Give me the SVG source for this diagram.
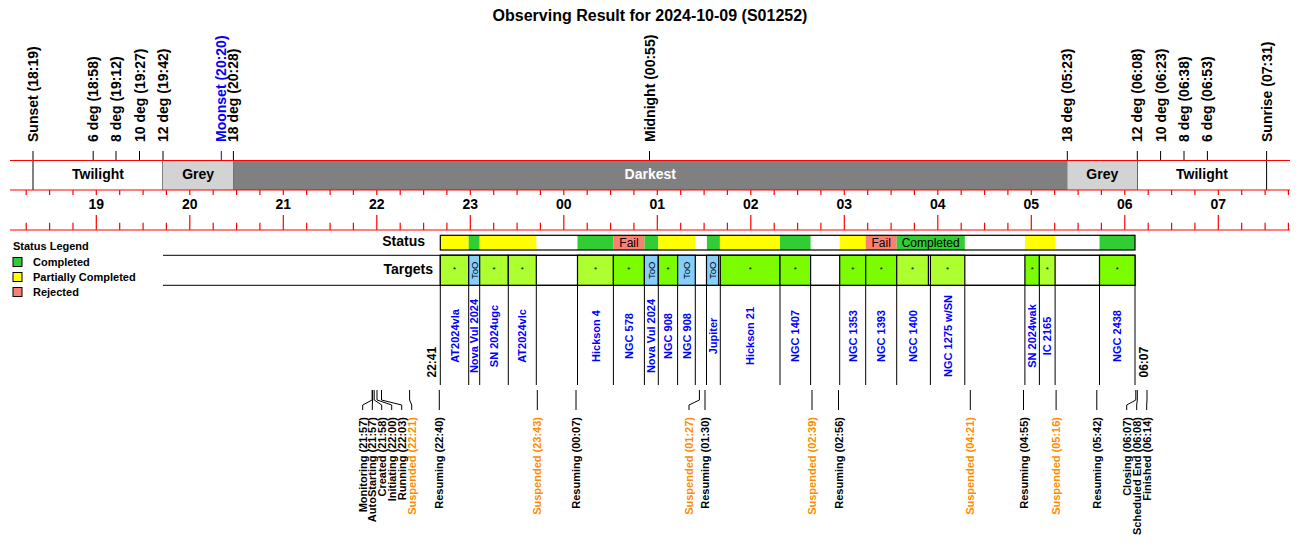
<svg xmlns="http://www.w3.org/2000/svg" width="1300" height="560" viewBox="0 0 1300 560">
<style>
text { font-family: "Liberation Sans", Arial, Helvetica, sans-serif; fill: #000; }
.title { font-size: 16px; font-weight: bold; }
.b14 { font-size: 14px; font-weight: bold; }
.b12 { font-size: 12px; font-weight: bold; }
.b11 { font-size: 11px; font-weight: bold; }
.r12 { font-size: 12px; }
.tgt { font-size: 11px; font-weight: bold; fill: #0000ff; }
.too { font-size: 9.5px; }
.star { font-size: 8px; }
.blue { fill: #0000ff; }
.orange { fill: #ff8c00; }
.white { fill: #ffffff; }
.red { stroke: #ff0000; stroke-width: 1.2; fill: none; }
.blk { stroke: #000; stroke-width: 1; fill: none; }
.tbox { stroke: #000; stroke-width: 1.2; }
.yg { fill: #adff2f; }
.lg { fill: #7cfc00; }
.sky { fill: #87cefa; }
.cG { fill: #32cd32; }
.cY { fill: #ffff00; }
.cR { fill: #fa8072; }
</style>
<rect width="1300" height="560" fill="#ffffff"/>
<text class="title" x="650" y="21" text-anchor="middle">Observing Result for 2024-10-09 (S01252)</text>

<g id="sky-events">
  <path class="blk" d="M33 151V190M93.2 151V160M116 151V160M139.5 151V160M163 151V190M233.4 151V190M649.5 151V160M1067.3 151V190M1137.3 151V190M1160.6 151V160M1184 151V160M1207.4 151V160M1266.6 151V190"/>
  <path d="M221.3 151V160" stroke="#0000ff" stroke-width="1" fill="none"/>
  <text class="b14" transform="translate(38,142) rotate(-90)">Sunset (18:19)</text>
  <text class="b14" transform="translate(98.2,142) rotate(-90)">6 deg (18:58)</text>
  <text class="b14" transform="translate(121,142) rotate(-90)">8 deg (19:12)</text>
  <text class="b14" transform="translate(144.5,142) rotate(-90)">10 deg (19:27)</text>
  <text class="b14" transform="translate(168,142) rotate(-90)">12 deg (19:42)</text>
  <text class="b14 blue" transform="translate(226.3,142) rotate(-90)">Moonset (20:20)</text>
  <text class="b14" transform="translate(238.4,142) rotate(-90)">18 deg (20:28)</text>
  <text class="b14" transform="translate(654.5,142) rotate(-90)">Midnight (00:55)</text>
  <text class="b14" transform="translate(1072.3,142) rotate(-90)">18 deg (05:23)</text>
  <text class="b14" transform="translate(1142.3,142) rotate(-90)">12 deg (06:08)</text>
  <text class="b14" transform="translate(1165.6,142) rotate(-90)">10 deg (06:23)</text>
  <text class="b14" transform="translate(1189,142) rotate(-90)">8 deg (06:38)</text>
  <text class="b14" transform="translate(1212.4,142) rotate(-90)">6 deg (06:53)</text>
  <text class="b14" transform="translate(1271.6,142) rotate(-90)">Sunrise (07:31)</text>
</g>

<g id="sky-bands">
  <rect x="163" y="160.5" width="70.4" height="29.5" fill="#d3d3d3"/>
  <rect x="233.4" y="160.5" width="833.9" height="29.5" fill="#808080"/>
  <rect x="1067.3" y="160.5" width="70" height="29.5" fill="#d3d3d3"/>
  <text class="b14" x="98" y="179" text-anchor="middle">Twilight</text>
  <text class="b14" x="198.2" y="179" text-anchor="middle">Grey</text>
  <text class="b14 white" x="650.3" y="179" text-anchor="middle">Darkest</text>
  <text class="b14" x="1102.3" y="179" text-anchor="middle">Grey</text>
  <text class="b14" x="1202" y="179" text-anchor="middle">Twilight</text>
  <path class="red" d="M10 160.5H1290M10 190H1290M10 230H1290"/>
</g>

<g id="time-axis">
  <path class="red" d="M26.2 190v5M49.6 190v5M73 190v5M96.3 190v5M119.7 190v5M143.1 190v5M166.4 190v5M189.8 190v5M213.2 190v5M236.6 190v5M259.9 190v5M283.3 190v5M306.7 190v5M330.1 190v5M353.4 190v5M376.8 190v5M400.2 190v5M423.6 190v5M446.9 190v5M470.3 190v5M493.7 190v5M517.1 190v5M540.4 190v5M563.8 190v5M587.2 190v5M610.6 190v5M633.9 190v5M657.3 190v5M680.7 190v5M704.1 190v5M727.4 190v5M750.8 190v5M774.2 190v5M797.6 190v5M820.9 190v5M844.3 190v5M867.7 190v5M891.1 190v5M914.4 190v5M937.8 190v5M961.2 190v5M984.6 190v5M1007.9 190v5M1031.3 190v5M1054.7 190v5M1078.1 190v5M1101.4 190v5M1124.8 190v5M1148.2 190v5M1171.6 190v5M1194.9 190v5M1218.3 190v5M1241.7 190v5M1265.1 190v5M1288.4 190v5"/>
  <path class="red" d="M26.2 222.7V230M49.6 222.7V230M73 222.7V230M119.7 222.7V230M143.1 222.7V230M166.4 222.7V230M213.2 222.7V230M236.6 222.7V230M259.9 222.7V230M306.7 222.7V230M330.1 222.7V230M353.4 222.7V230M400.2 222.7V230M423.6 222.7V230M446.9 222.7V230M493.7 222.7V230M517.1 222.7V230M540.4 222.7V230M587.2 222.7V230M610.6 222.7V230M633.9 222.7V230M680.7 222.7V230M704.1 222.7V230M727.4 222.7V230M774.2 222.7V230M797.6 222.7V230M820.9 222.7V230M867.7 222.7V230M891.1 222.7V230M914.4 222.7V230M961.2 222.7V230M984.6 222.7V230M1007.9 222.7V230M1054.7 222.7V230M1078.1 222.7V230M1101.4 222.7V230M1148.2 222.7V230M1171.6 222.7V230M1194.9 222.7V230M1241.7 222.7V230M1265.1 222.7V230M1288.4 222.7V230"/>
  <path class="red" d="M96.3 215V230M189.8 215V230M283.3 215V230M376.8 215V230M470.3 215V230M563.8 215V230M657.3 215V230M750.8 215V230M844.3 215V230M937.8 215V230M1031.3 215V230M1124.8 215V230M1218.3 215V230"/>
  <text class="b14" x="96.3" y="209.3" text-anchor="middle">19</text>
  <text class="b14" x="189.8" y="209.3" text-anchor="middle">20</text>
  <text class="b14" x="283.3" y="209.3" text-anchor="middle">21</text>
  <text class="b14" x="376.8" y="209.3" text-anchor="middle">22</text>
  <text class="b14" x="470.3" y="209.3" text-anchor="middle">23</text>
  <text class="b14" x="563.8" y="209.3" text-anchor="middle">00</text>
  <text class="b14" x="657.3" y="209.3" text-anchor="middle">01</text>
  <text class="b14" x="750.8" y="209.3" text-anchor="middle">02</text>
  <text class="b14" x="844.3" y="209.3" text-anchor="middle">03</text>
  <text class="b14" x="937.8" y="209.3" text-anchor="middle">04</text>
  <text class="b14" x="1031.3" y="209.3" text-anchor="middle">05</text>
  <text class="b14" x="1124.8" y="209.3" text-anchor="middle">06</text>
  <text class="b14" x="1218.3" y="209.3" text-anchor="middle">07</text>
</g>

<g id="legend">
  <text class="b11" x="13" y="250">Status Legend</text>
  <rect class="cG" x="13" y="257.5" width="9" height="9" stroke="#000" stroke-width="1"/>
  <text class="b11" x="33" y="266">Completed</text>
  <rect class="cY" x="13" y="272.5" width="9" height="9" stroke="#000" stroke-width="1"/>
  <text class="b11" x="33" y="281">Partially Completed</text>
  <rect class="cR" x="13" y="287.5" width="9" height="9" stroke="#000" stroke-width="1"/>
  <text class="b11" x="33" y="296">Rejected</text>
</g>

<g id="status-row">
  <text class="b14" x="425" y="246" text-anchor="end">Status</text>
  <rect class="cY" x="440.3" y="235.3" width="28.4" height="14.7"/>
  <rect class="cG" x="468.7" y="235.3" width="11" height="14.7"/>
  <rect class="cY" x="479.7" y="235.3" width="56.6" height="14.7"/>
  <rect class="cG" x="577.5" y="235.3" width="36" height="14.7"/>
  <rect class="cR" x="613.5" y="235.3" width="31" height="14.7"/>
  <rect class="cG" x="644.5" y="235.3" width="13.8" height="14.7"/>
  <rect class="cY" x="658.3" y="235.3" width="37.1" height="14.7"/>
  <rect class="cG" x="706.9" y="235.3" width="13" height="14.7"/>
  <rect class="cY" x="719.9" y="235.3" width="60.1" height="14.7"/>
  <rect class="cG" x="780" y="235.3" width="30.6" height="14.7"/>
  <rect class="cY" x="839.7" y="235.3" width="26" height="14.7"/>
  <rect class="cR" x="865.7" y="235.3" width="31" height="14.7"/>
  <rect class="cG" x="896.7" y="235.3" width="68.1" height="14.7"/>
  <rect class="cY" x="1024.9" y="235.3" width="30.2" height="14.7"/>
  <rect class="cG" x="1099.5" y="235.3" width="35.5" height="14.7"/>
  <rect x="440.3" y="235.3" width="694.7" height="14.7" fill="none" stroke="#000" stroke-width="1.2"/>
  <text class="r12" x="629" y="247" text-anchor="middle">Fail</text>
  <text class="r12" x="881.2" y="247" text-anchor="middle">Fail</text>
  <text class="r12" x="930.7" y="247" text-anchor="middle">Completed</text>
</g>

<g id="targets-row">
  <text class="b14" x="433" y="274" text-anchor="end">Targets</text>
  <path class="blk" d="M163 255.3H1135M163 285.3H1135" stroke-width="1.2"/>
  <rect x="440.3" y="255.3" width="694.7" height="30" fill="none" stroke="#000" stroke-width="1.2"/>
</g>

<g id="t01"><rect class="tbox yg" x="440.3" y="255.3" width="28.4" height="30"/><text class="star" x="454.5" y="272" text-anchor="middle">*</text><text class="tgt" transform="translate(458.5,336) rotate(-90)" text-anchor="middle">AT2024vla</text></g>
<g id="t02"><rect class="tbox sky" x="468.7" y="255.3" width="11" height="30"/><text class="too" transform="translate(477.6,270.3) rotate(-90)" text-anchor="middle">ToO</text><text class="tgt" transform="translate(478.2,336) rotate(-90)" text-anchor="middle">Nova Vul 2024</text></g>
<g id="t03"><rect class="tbox yg" x="479.7" y="255.3" width="28.6" height="30"/><text class="star" x="494" y="272" text-anchor="middle">*</text><text class="tgt" transform="translate(498,336) rotate(-90)" text-anchor="middle">SN 2024ugc</text></g>
<g id="t04"><rect class="tbox yg" x="508.3" y="255.3" width="28" height="30"/><text class="star" x="522.3" y="272" text-anchor="middle">*</text><text class="tgt" transform="translate(526.3,336) rotate(-90)" text-anchor="middle">AT2024vlc</text></g>
<g id="t05"><rect class="tbox yg" x="577.5" y="255.3" width="35.9" height="30"/><text class="star" x="595.5" y="272" text-anchor="middle">*</text><text class="tgt" transform="translate(599.5,336) rotate(-90)" text-anchor="middle">Hickson 4</text></g>
<g id="t06"><rect class="tbox lg" x="613.4" y="255.3" width="31" height="30"/><text class="star" x="628.9" y="272" text-anchor="middle">*</text><text class="tgt" transform="translate(632.9,336) rotate(-90)" text-anchor="middle">NGC 578</text></g>
<g id="t07"><rect class="tbox sky" x="644.4" y="255.3" width="13.9" height="30"/><text class="too" transform="translate(654.8,270.3) rotate(-90)" text-anchor="middle">ToO</text><text class="tgt" transform="translate(655.4,336) rotate(-90)" text-anchor="middle">Nova Vul 2024</text></g>
<g id="t08"><rect class="tbox lg" x="658.3" y="255.3" width="19.3" height="30"/><text class="star" x="668" y="272" text-anchor="middle">*</text><text class="tgt" transform="translate(672,336) rotate(-90)" text-anchor="middle">NGC 908</text></g>
<g id="t09"><rect class="tbox sky" x="677.6" y="255.3" width="17.7" height="30"/><text class="too" transform="translate(689.9,270.3) rotate(-90)" text-anchor="middle">ToO</text><text class="tgt" transform="translate(690.5,336) rotate(-90)" text-anchor="middle">NGC 908</text></g>
<g id="t10"><rect class="tbox sky" x="706.5" y="255.3" width="12.2" height="30"/><text class="too" transform="translate(716,270.3) rotate(-90)" text-anchor="middle">ToO</text><text class="tgt" transform="translate(716.6,336) rotate(-90)" text-anchor="middle">Jupiter</text></g>
<g id="t11"><rect class="tbox lg" x="720.3" y="255.3" width="59.7" height="30"/><text class="star" x="750.2" y="272" text-anchor="middle">*</text><text class="tgt" transform="translate(754.2,336) rotate(-90)" text-anchor="middle">Hickson 21</text></g>
<g id="t12"><rect class="tbox lg" x="780" y="255.3" width="30.6" height="30"/><text class="star" x="795.3" y="272" text-anchor="middle">*</text><text class="tgt" transform="translate(799.3,336) rotate(-90)" text-anchor="middle">NGC 1407</text></g>
<g id="t13"><rect class="tbox lg" x="839.7" y="255.3" width="26" height="30"/><text class="star" x="852.7" y="272" text-anchor="middle">*</text><text class="tgt" transform="translate(856.7,336) rotate(-90)" text-anchor="middle">NGC 1353</text></g>
<g id="t14"><rect class="tbox lg" x="865.7" y="255.3" width="31" height="30"/><text class="star" x="881.2" y="272" text-anchor="middle">*</text><text class="tgt" transform="translate(885.2,336) rotate(-90)" text-anchor="middle">NGC 1393</text></g>
<g id="t15"><rect class="tbox yg" x="896.7" y="255.3" width="31.7" height="30"/><text class="star" x="912.6" y="272" text-anchor="middle">*</text><text class="tgt" transform="translate(916.6,336) rotate(-90)" text-anchor="middle">NGC 1400</text></g>
<g id="t16"><rect class="tbox yg" x="930.4" y="255.3" width="34.4" height="30"/><text class="star" x="947.6" y="272" text-anchor="middle">*</text><text class="tgt" transform="translate(951.6,336) rotate(-90)" text-anchor="middle">NGC 1275 w/SN</text></g>
<g id="t17"><rect class="tbox lg" x="1024.9" y="255.3" width="14.5" height="30"/><text class="star" x="1032.2" y="272" text-anchor="middle">*</text><text class="tgt" transform="translate(1036.2,336) rotate(-90)" text-anchor="middle">SN 2024wak</text></g>
<g id="t18"><rect class="tbox yg" x="1039.4" y="255.3" width="15.7" height="30"/><text class="star" x="1047.3" y="272" text-anchor="middle">*</text><text class="tgt" transform="translate(1051.3,336) rotate(-90)" text-anchor="middle">IC 2165</text></g>
<g id="t19"><rect class="tbox lg" x="1099.5" y="255.3" width="35.5" height="30"/><text class="star" x="1117.3" y="272" text-anchor="middle">*</text><text class="tgt" transform="translate(1121.3,336) rotate(-90)" text-anchor="middle">NGC 2438</text></g>

<g id="window-times">
  <text class="b12" transform="translate(436,377.5) rotate(-90)">22:41</text>
  <text class="b12" transform="translate(1147.6,377.5) rotate(-90)">06:07</text>
</g>

<g id="connectors">
  <path class="blk" d="M440.3 285.3V385M468.7 285.3V385M479.7 285.3V385M508.3 285.3V385M536.3 285.3V385M577.5 285.3V385M613.4 285.3V385M644.4 285.3V385M658.3 285.3V385M677.6 285.3V385M695.3 285.3V385M706.5 285.3V385M720.3 285.3V385M780 285.3V385M810.6 285.3V385M839.7 285.3V385M865.7 285.3V385M896.7 285.3V385M930.4 285.3V385M964.8 285.3V385M1024.9 285.3V385M1039.4 285.3V385M1055.1 285.3V385M1099.5 285.3V385M1135 285.3V385"/>
  <path class="blk" d="M372.1 390V400L362.7 405V410M372.6 390V400L372.3 405V410M374.2 390V400L381.7 405V410M377 390V400L391.7 405V410M381.5 390V400L401.7 405V410M409.6 390V400L411.7 405V410M439.3 390V410M537.3 390V410M576 390V410M699.4 390V400L689 405V410M705 390V410M812 390V410M838.5 390V410M970.3 390V410M1023.5 390V410M1056.1 390V410M1096.8 390V410M1135.8 390V400L1126.7 405V410M1137.3 390V400L1136.7 405V410M1147 390V400L1146.7 405V410"/>
</g>

<g id="events">
  <text class="b11" transform="translate(366.7,417) rotate(-90)" text-anchor="end">Monitoring (21:57)</text>
  <text class="b11" transform="translate(376.3,417) rotate(-90)" text-anchor="end">AutoStarting (21:57)</text>
  <text class="b11" transform="translate(385.7,417) rotate(-90)" text-anchor="end">Created (21:58)</text>
  <text class="b11" transform="translate(395.7,417) rotate(-90)" text-anchor="end">Initiating (22:00)</text>
  <text class="b11" transform="translate(405.7,417) rotate(-90)" text-anchor="end">Running (22:03)</text>
  <text class="b11 orange" transform="translate(415.7,417) rotate(-90)" text-anchor="end">Suspended (22:21)</text>
  <text class="b11" transform="translate(443.3,417) rotate(-90)" text-anchor="end">Resuming (22:40)</text>
  <text class="b11 orange" transform="translate(541.3,417) rotate(-90)" text-anchor="end">Suspended (23:43)</text>
  <text class="b11" transform="translate(580,417) rotate(-90)" text-anchor="end">Resuming (00:07)</text>
  <text class="b11 orange" transform="translate(693,417) rotate(-90)" text-anchor="end">Suspended (01:27)</text>
  <text class="b11" transform="translate(709,417) rotate(-90)" text-anchor="end">Resuming (01:30)</text>
  <text class="b11 orange" transform="translate(816,417) rotate(-90)" text-anchor="end">Suspended (02:39)</text>
  <text class="b11" transform="translate(842.5,417) rotate(-90)" text-anchor="end">Resuming (02:56)</text>
  <text class="b11 orange" transform="translate(974.3,417) rotate(-90)" text-anchor="end">Suspended (04:21)</text>
  <text class="b11" transform="translate(1027.5,417) rotate(-90)" text-anchor="end">Resuming (04:55)</text>
  <text class="b11 orange" transform="translate(1060.1,417) rotate(-90)" text-anchor="end">Suspended (05:16)</text>
  <text class="b11" transform="translate(1100.8,417) rotate(-90)" text-anchor="end">Resuming (05:42)</text>
  <text class="b11" transform="translate(1130.7,417) rotate(-90)" text-anchor="end">Closing (06:07)</text>
  <text class="b11" transform="translate(1140.7,417) rotate(-90)" text-anchor="end">Scheduled End (06:08)</text>
  <text class="b11" transform="translate(1150.7,417) rotate(-90)" text-anchor="end">Finished (06:14)</text>
</g>
</svg>
